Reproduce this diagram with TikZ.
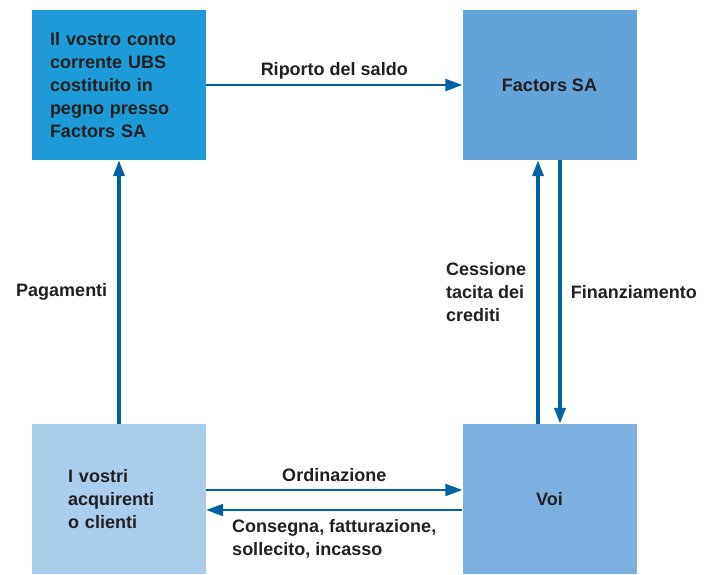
\documentclass[tikz,border=0pt]{standalone}
\usepackage{fontspec}
\setmainfont{Liberation Sans}
\usetikzlibrary{arrows.meta}
\definecolor{ubsblue}{HTML}{1E9AD8}
\definecolor{facblue}{HTML}{62A3D9}
\definecolor{voiblue}{HTML}{7AB1E0}
\definecolor{acqblue}{HTML}{ABCDEC}
\definecolor{arrowblue}{HTML}{0062A3}
\definecolor{txt}{HTML}{231F20}
\tikzset{
  box/.style={minimum width=174pt,minimum height=150pt,inner sep=0pt,
    text=txt,font=\bfseries\fontsize{18}{23}\selectfont},
  lbl/.style={text=txt,font=\bfseries\fontsize{18}{23}\selectfont,inner sep=0pt},
  hflow/.style={arrowblue,line width=2.3pt,-{Triangle[length=17pt,width=12pt]}},
  vflow/.style={arrowblue,line width=3.5pt,-{Triangle[length=16pt,width=11pt]}}
}
\begin{document}
\begin{tikzpicture}[x=1pt,y=-1pt]
\useasboundingbox (0,0) rectangle (709,574);

\node[box,fill=ubsblue,text width=138pt,align=left] (ubs) at (119,85)
  {Il vostro conto\\corrente UBS\\costituito in\\pegno presso\\Factors SA};
\node[box,fill=facblue] (fac) at (549.5,85) {Factors SA};
\node[box,fill=acqblue,text width=102pt,align=left] (acq) at (119,499)
  {I vostri\\acquirenti\\o clienti};
\node[box,fill=voiblue] (voi) at (549.5,499) {Voi};

\draw[hflow] (ubs) -- node[lbl,above=5pt] {Riporto del saldo} (fac);
\draw[vflow] (acq) -- node[lbl,left=10pt] {Pagamenti} (ubs);

\draw[vflow] ([xshift=-11.5pt]voi.north) -- node[lbl,left=10pt,align=left]
  {Cessione\\tacita dei\\crediti} ([xshift=-11.5pt]fac.south);
\draw[vflow] ([xshift=10.5pt]fac.south) -- node[lbl,right=9pt]
  {Finanziamento} ([xshift=10.5pt]voi.north);

\draw[hflow] ([yshift=9pt]acq.east) -- node[lbl,above=7pt] {Ordinazione}
  ([yshift=9pt]voi.west);
\draw[hflow] ([yshift=-11pt]voi.west) -- node[lbl,below=8pt,align=left]
  {Consegna, fatturazione,\\sollecito, incasso} ([yshift=-11pt]acq.east);

\end{tikzpicture}
\end{document}
